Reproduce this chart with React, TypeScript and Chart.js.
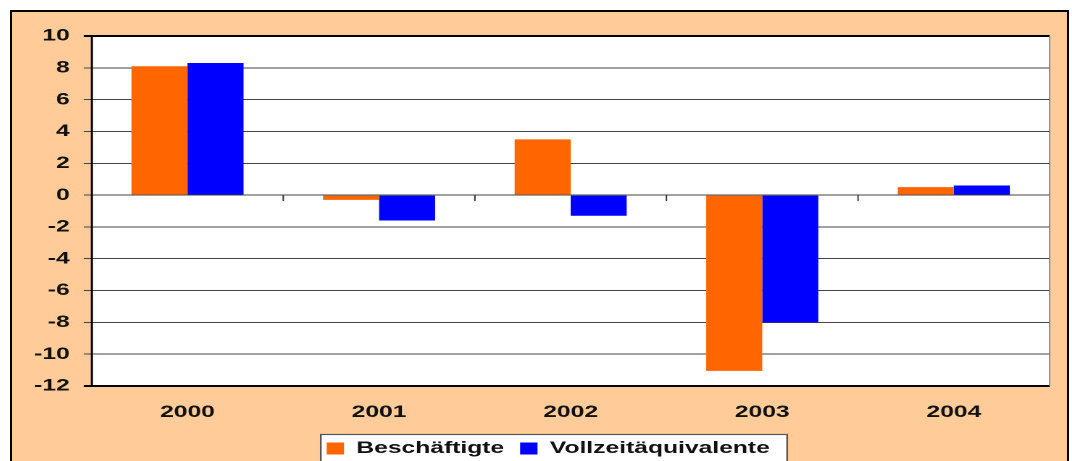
import React, { useEffect, useRef } from "react";
import { Chart, registerables } from "chart.js";

Chart.register(...registerables);

const categories = ["2000", "2001", "2002", "2003", "2004"];
const beschaeftigte = [8.1, -0.3, 3.5, -11.05, 0.5];
const vollzeitaequivalente = [8.3, -1.6, -1.3, -8.0, 0.6];
const seriesNames = ["Beschäftigte", "Vollzeitäquivalente"];
const yMin = -12;
const yMax = 10;
const yStep = 2;

const FONT = "'Liberation Sans', Arial, sans-serif";

const decorPlugin = {
  id: "decor",
  beforeDraw(chart: any) {
    const { ctx, chartArea: a } = chart;
    ctx.save();
    ctx.fillStyle = "#ffffff";
    ctx.fillRect(a.left, a.top, a.right - a.left, a.bottom - a.top);
    const hb = chart.legend && chart.legend.legendHitBoxes;
    if (hb && hb.length) {
      const first = hb[0];
      const last = hb[hb.length - 1];
      const cy = first.top + first.height / 2;
      const x0 = first.left - 4;
      const x1 = last.left + last.width + 12;
      const y0 = cy - 14;
      const y1 = chart.height + 10;
      ctx.fillStyle = "#ffffff";
      ctx.fillRect(x0, y0, x1 - x0, y1 - y0);
      ctx.strokeStyle = "#555555";
      ctx.lineWidth = 1.2;
      ctx.strokeRect(x0, y0, x1 - x0, y1 - y0);
    }
    ctx.restore();
  },
  afterDraw(chart: any) {
    const { ctx, chartArea: a, scales } = chart;
    const xs = scales.x;
    const ys = scales.y;
    ctx.save();
    const y0 = ys.getPixelForValue(0);
    ctx.strokeStyle = "#333333";
    ctx.lineWidth = 1;
    for (let i = 1; i < categories.length; i++) {
      const x = (xs.getPixelForValue(i - 1) + xs.getPixelForValue(i)) / 2;
      ctx.beginPath();
      ctx.moveTo(x, y0);
      ctx.lineTo(x, y0 + 6);
      ctx.stroke();
    }
    ctx.strokeStyle = "#000000";
    ctx.lineWidth = 2;
    ctx.beginPath();
    ctx.moveTo(a.left - 5.5, a.top);
    ctx.lineTo(a.right, a.top);
    ctx.moveTo(a.left - 5.5, a.bottom);
    ctx.lineTo(a.right, a.bottom);
    ctx.stroke();
    ctx.lineWidth = 1.3;
    ctx.beginPath();
    ctx.moveTo(a.left, a.top);
    ctx.lineTo(a.left, a.bottom);
    ctx.stroke();
    ctx.strokeStyle = "#7a7a7a";
    ctx.lineWidth = 0.8;
    ctx.beginPath();
    ctx.moveTo(a.right, a.top);
    ctx.lineTo(a.right, a.bottom);
    ctx.stroke();
    ctx.restore();
  },
};

export default function App() {
  const canvasRef = useRef<HTMLCanvasElement | null>(null);

  useEffect(() => {
    if (!canvasRef.current) return;
    const chart = new Chart(canvasRef.current, {
      type: "bar",
      data: {
        labels: categories,
        datasets: [
          {
            label: seriesNames[0],
            data: beschaeftigte,
            backgroundColor: "#FF6600",
            borderWidth: 0,
          },
          {
            label: seriesNames[1],
            data: vollzeitaequivalente,
            backgroundColor: "#0000FF",
            borderWidth: 0,
          },
        ],
      },
      options: {
        animation: false,
        responsive: false,
        devicePixelRatio: 2,
        layout: { padding: { left: 12, right: 0, top: 24, bottom: 0 } },
        datasets: {
          bar: { categoryPercentage: 0.585, barPercentage: 1 },
        },
        scales: {
          x: {
            grid: { display: false, drawTicks: false },
            border: { display: false },
            ticks: {
              padding: 16,
              color: "#111111",
              font: { family: FONT, size: 17, weight: "bold" },
            },
            afterFit: (s: any) => {
              s.height = 43;
            },
          },
          y: {
            min: yMin,
            max: yMax,
            border: { display: true, color: "#000000", width: 1.3 },
            grid: {
              color: "#444444",
              lineWidth: 1,
              drawTicks: true,
              tickLength: 5.5,
              tickColor: "#444444",
            },
            ticks: {
              stepSize: yStep,
              padding: 9.7,
              color: "#111111",
              font: { family: FONT, size: 17, weight: "bold" },
            },
            afterFit: (s: any) => {
              s.width = 43;
            },
          },
          ySpacer: {
            type: "linear",
            position: "right",
            display: true,
            grid: { display: false, drawTicks: false },
            border: { display: false },
            ticks: { display: false },
            afterFit: (s: any) => {
              s.width = 12;
            },
          },
        },
        plugins: {
          legend: {
            position: "bottom",
            labels: {
              boxWidth: 12,
              boxHeight: 12,
              padding: 11,
              color: "#111111",
              font: { family: FONT, size: 17, weight: "bold" },
            },
          },
          tooltip: { enabled: false },
        },
      },
      plugins: [decorPlugin],
    } as any);
    return () => chart.destroy();
  }, []);

  return (
    <div
      style={{
        position: "absolute",
        left: 10,
        top: 10,
        width: 1059,
        height: 451,
        boxSizing: "border-box",
        border: "2px solid #000",
        borderBottom: "none",
        background: "#FFCC99",
        overflow: "hidden",
      }}
    >
      <canvas
        ref={canvasRef}
        width={728}
        height={455}
        style={{ width: "1055px", height: "455px", display: "block" }}
      />
    </div>
  );
}
